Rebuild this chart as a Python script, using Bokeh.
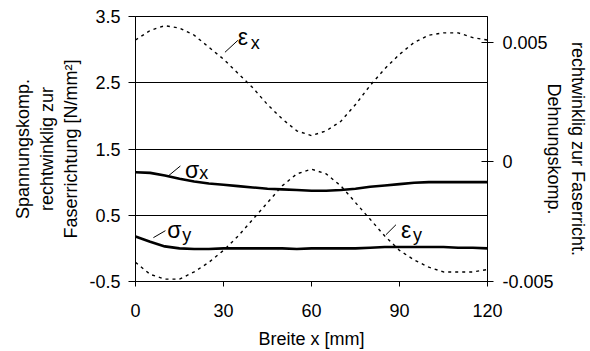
import math
from bokeh.plotting import figure
from bokeh.models import Range1d, LinearAxis, FixedTicker, Label, CustomJSTickFormatter
from bokeh.embed import file_html
from bokeh.resources import INLINE

# ---- data ----
x_mm = [0, 5, 10, 15, 20, 25, 30, 35, 40, 45, 50, 55, 60, 65, 70, 75, 80, 85, 90, 95, 100, 105, 110, 115, 120]
sigma_x = [1.15, 1.14, 1.10, 1.05, 1.01, 0.98, 0.96, 0.94, 0.92, 0.90, 0.89, 0.88, 0.87, 0.87, 0.88, 0.90, 0.93, 0.95, 0.97, 0.99, 1.00, 1.00, 1.00, 1.00, 1.00]
sigma_y = [0.18, 0.10, 0.03, 0.00, -0.01, -0.01, 0.00, 0.00, 0.00, 0.00, 0.00, -0.01, 0.00, 0.00, 0.00, 0.00, 0.01, 0.02, 0.02, 0.02, 0.02, 0.02, 0.01, 0.01, 0.00]
eps_x = [0.0051, 0.0055, 0.0057, 0.0056, 0.0053, 0.0048, 0.0043, 0.0037, 0.0031, 0.0024, 0.0018, 0.0013, 0.0011, 0.0013, 0.0017, 0.0024, 0.0032, 0.0039, 0.0045, 0.0050, 0.0053, 0.0054, 0.0054, 0.0052, 0.0051]
eps_y = [-0.0042, -0.0047, -0.0049, -0.0049, -0.0046, -0.0042, -0.0037, -0.0031, -0.0024, -0.0017, -0.0010, -0.0005, -0.0003, -0.0005, -0.0010, -0.0017, -0.0024, -0.0031, -0.0037, -0.0041, -0.0044, -0.0046, -0.0046, -0.0046, -0.0045]

x_ticks = [0, 30, 60, 90, 120]
left_ticks = [-0.5, 0.5, 1.5, 2.5, 3.5]
right_ticks = [-0.005, 0, 0.005]

x_title = "Breite x [mm]"
left_title = "Spannungskomp.\nrechtwinklig zur\nFaserrichtung [N/mm²]"
# right axis text is drawn rotated clockwise, so the outer line comes first
right_title = "rechtwinklig zur Faserricht.\nDehnungskomp."

FONT = "Liberation Sans"

p = figure(width=590, height=351, output_backend="svg", toolbar_location=None,
           x_range=Range1d(0, 120), y_range=Range1d(-0.5, 3.5),
           min_border_left=135, min_border_right=101, min_border_top=16, min_border_bottom=69)
p.background_fill_color = "white"
p.border_fill_color = "white"
p.outline_line_color = "black"
p.outline_line_width = 1
p.extra_y_ranges = {"eps": Range1d(-0.005, 0.006083)}

fmt = CustomJSTickFormatter(code="return tick.toString();")

def style_axis(ax):
    ax.minor_tick_line_color = None
    ax.major_label_text_font = FONT
    ax.major_label_text_font_size = "18px"
    ax.major_label_text_color = "black"
    ax.axis_line_color = "black"
    ax.major_tick_line_color = "black"
    ax.axis_label_text_font = FONT
    ax.axis_label_text_font_size = "18px"
    ax.axis_label_text_font_style = "normal"
    ax.axis_label_text_color = "black"
    ax.axis_label_text_line_height = 1.22
    ax.axis_label_text_align = "center"

# x axis
xa = p.xaxis[0]
style_axis(xa)
xa.ticker = FixedTicker(ticks=x_ticks)
xa.major_tick_in = 0
xa.major_tick_out = 5
xa.major_label_standoff = 17
xa.axis_label = x_title
xa.axis_label_standoff = 9

# left axis
ya = p.yaxis[0]
style_axis(ya)
ya.ticker = FixedTicker(ticks=left_ticks)
ya.formatter = fmt
ya.major_tick_in = 0
ya.major_tick_out = 7
ya.major_label_standoff = 8
ya.major_label_orientation = "horizontal"
ya.axis_label = left_title
ya.axis_label_standoff = 5

# right axis
ra = LinearAxis(y_range_name="eps", ticker=FixedTicker(ticks=right_ticks), formatter=fmt)
style_axis(ra)
ra.major_tick_in = 6
ra.major_tick_out = 6
ra.major_label_standoff = 9
ra.major_label_orientation = "horizontal"
ra.axis_label = right_title
ra.axis_label_standoff = -13
p.add_layout(ra, "right")

p.xgrid.grid_line_color = None
p.ygrid.ticker = FixedTicker(ticks=left_ticks)
p.ygrid.grid_line_color = "black"
p.ygrid.grid_line_width = 1

# curves
p.line(x_mm, sigma_x, line_color="black", line_width=2.6)
p.line(x_mm, sigma_y, line_color="black", line_width=2.6)
p.line(x_mm, eps_x, y_range_name="eps", line_color="black", line_width=1.4, line_dash="3 4")
p.line(x_mm, eps_y, y_range_name="eps", line_color="black", line_width=1.4, line_dash="3 4")

# leader lines for curve labels
lead_x0 = [30.5, 11.2, 6.1, 85.4]
lead_y0 = [2.96, 1.094, 0.162, 0.207]
lead_x1 = [34.9, 15.3, 10.2, 88.8]
lead_y1 = [3.14, 1.244, 0.267, 0.357]
p.segment(lead_x0, lead_y0, lead_x1, lead_y1, line_color="black", line_width=1)

def greek(sym, sub, x, y, xs, ys):
    p.add_layout(Label(x=x, y=y, text=sym, text_font=FONT, text_font_size="23px",
                       text_baseline="alphabetic", text_align="left", text_color="black"))
    p.add_layout(Label(x=xs, y=ys, text=sub, text_font=FONT, text_font_size="18px",
                       text_baseline="alphabetic", text_align="left", text_color="black"))

greek("ε", "x", 34.9, 3.184, 39.3, 3.094)
greek("σ", "x", 16.9, 1.184, 21.7, 1.139)
greek("σ", "y", 10.8, 0.282, 15.9, 0.207)
greek("ε", "y", 90.5, 0.282, 94.6, 0.207)

open("out.html", "w").write(file_html(p, INLINE))
